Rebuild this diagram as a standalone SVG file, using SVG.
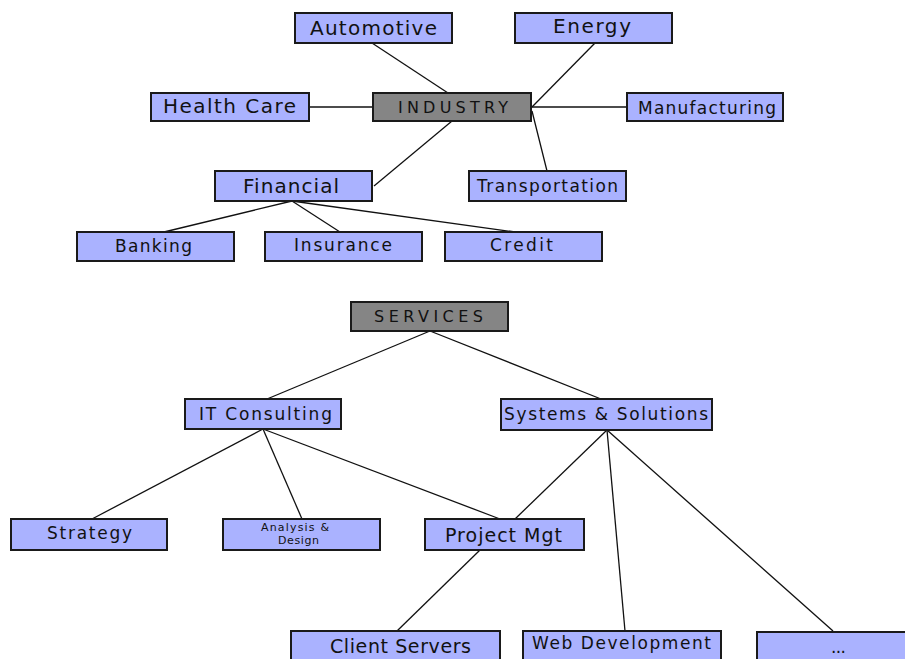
<svg xmlns="http://www.w3.org/2000/svg" width="905" height="659" viewBox="0 0 905 659">
<style>
.box{fill:#aab2ff;stroke:#1a1a1a;stroke-width:2}
.root{fill:#858585;stroke:#1a1a1a;stroke-width:2}
text{font-family:"DejaVu Sans","Liberation Sans",sans-serif;fill:#111}
.l{font-size:20px}
.m{font-size:17px}
.s{font-size:16px}
.p{font-size:19px}
.t{font-size:11px}
#connectors line{stroke:#111;stroke-width:1.3}
</style>
<rect width="905" height="659" fill="#fff"/>
<g id="connectors">
<line x1="372" y1="43" x2="448" y2="93"/>
<line x1="595" y1="43" x2="532" y2="107"/>
<line x1="309" y1="107" x2="373" y2="107"/>
<line x1="531" y1="107" x2="627" y2="107"/>
<line x1="532" y1="111" x2="547" y2="171"/>
<line x1="452" y1="121" x2="374" y2="186"/>
<line x1="292" y1="201" x2="164" y2="232"/>
<line x1="292" y1="201" x2="340" y2="232"/>
<line x1="292" y1="201" x2="515" y2="232"/>
<line x1="430" y1="331" x2="267" y2="399"/>
<line x1="430" y1="331" x2="601" y2="399"/>
<line x1="263" y1="429" x2="92" y2="519"/>
<line x1="263" y1="429" x2="302" y2="519"/>
<line x1="263" y1="429" x2="500" y2="519"/>
<line x1="607" y1="430" x2="515" y2="519"/>
<line x1="607" y1="430" x2="625" y2="631"/>
<line x1="607" y1="430" x2="833" y2="631"/>
<line x1="480" y1="550" x2="397" y2="631"/>
</g>
<g id="automotive"><rect class="box" x="295" y="13" width="157" height="30"/><text class="l" x="310" y="35" textLength="127" lengthAdjust="spacing">Automotive</text></g>
<g id="energy"><rect class="box" x="515" y="13" width="157" height="30"/><text class="l" x="553" y="33" textLength="78" lengthAdjust="spacing">Energy</text></g>
<g id="health-care"><rect class="box" x="151" y="93" width="158" height="28"/><text class="l" x="163" y="113" textLength="133" lengthAdjust="spacing">Health Care</text></g>
<g id="industry"><rect class="root" x="373" y="93" width="158" height="28"/><text class="s" x="398" y="113" textLength="110" lengthAdjust="spacing">INDUSTRY</text></g>
<g id="manufacturing"><rect class="box" x="627" y="93" width="156" height="28"/><text class="m" x="638" y="114" textLength="138" lengthAdjust="spacing">Manufacturing</text></g>
<g id="financial"><rect class="box" x="215" y="171" width="157" height="30"/><text class="l" x="243" y="193" textLength="96" lengthAdjust="spacing">Financial</text></g>
<g id="transportation"><rect class="box" x="469" y="171" width="157" height="30"/><text class="m" x="477" y="192" textLength="141" lengthAdjust="spacing">Transportation</text></g>
<g id="banking"><rect class="box" x="77" y="232" width="157" height="29"/><text class="m" x="115" y="252" textLength="77" lengthAdjust="spacing">Banking</text></g>
<g id="insurance"><rect class="box" x="265" y="232" width="157" height="29"/><text class="m" x="294" y="251" textLength="98" lengthAdjust="spacing">Insurance</text></g>
<g id="credit"><rect class="box" x="445" y="232" width="157" height="29"/><text class="m" x="490" y="251" textLength="63" lengthAdjust="spacing">Credit</text></g>
<g id="services"><rect class="root" x="351" y="302" width="157" height="29"/><text class="s" x="374" y="322" textLength="109" lengthAdjust="spacing">SERVICES</text></g>
<g id="it-consulting"><rect class="box" x="185" y="399" width="156" height="30"/><text class="m" x="199" y="420" textLength="133" lengthAdjust="spacing">IT Consulting</text></g>
<g id="systems-solutions"><rect class="box" x="501" y="399" width="211" height="31"/><text class="m" x="504" y="420" textLength="204" lengthAdjust="spacing">Systems &amp; Solutions</text></g>
<g id="strategy"><rect class="box" x="11" y="519" width="156" height="31"/><text class="m" x="47" y="539" textLength="85" lengthAdjust="spacing">Strategy</text></g>
<g id="analysis-design"><rect class="box" x="223" y="519" width="157" height="31"/><text class="t" x="261" y="531" textLength="68" lengthAdjust="spacing">Analysis &amp;</text><text class="t" x="278" y="544" textLength="41" lengthAdjust="spacing">Design</text></g>
<g id="project-mgt"><rect class="box" x="425" y="519" width="159" height="31"/><text class="p" x="445" y="542" textLength="117" lengthAdjust="spacing">Project Mgt</text></g>
<g id="client-servers"><rect class="box" x="291" y="631" width="209" height="40"/><text class="p" x="330" y="653" textLength="141" lengthAdjust="spacing">Client Servers</text></g>
<g id="web-development"><rect class="box" x="523" y="631" width="198" height="40"/><text class="m" x="532" y="649" textLength="179" lengthAdjust="spacing">Web Development</text></g>
<g id="more"><rect class="box" x="757" y="632" width="160" height="40"/><text class="m" x="831" y="653" textLength="15" lengthAdjust="spacing">...</text></g>
</svg>
